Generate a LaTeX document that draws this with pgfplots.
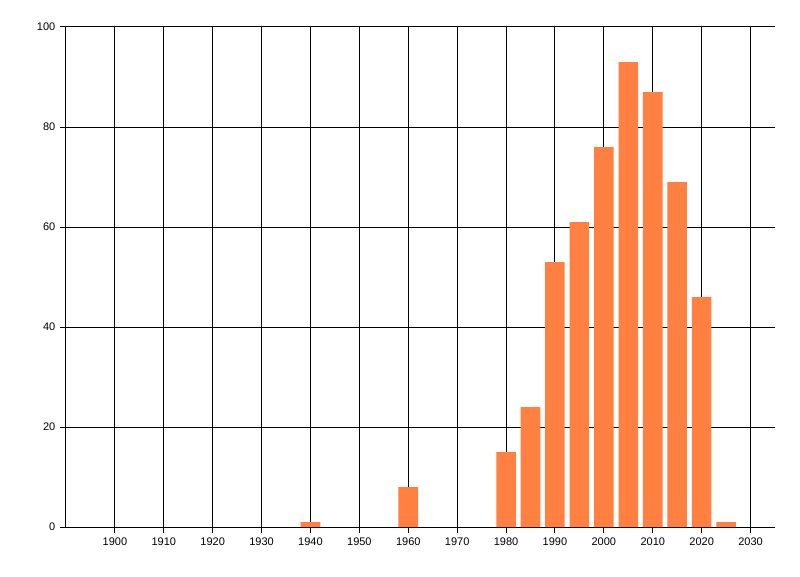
\documentclass[border=0pt]{standalone}
\usepackage{pgfplots}
\pgfplotsset{compat=1.18}
\usepackage{fontspec}
\setmainfont{Liberation Sans}
\definecolor{barc}{RGB}{255,128,64}
\begin{document}
\begin{tikzpicture}
\useasboundingbox (-49.5pt,-36.75pt) rectangle (550.5pt,395.25pt);
\begin{axis}[
  at={(0,0)}, anchor=south west,
  scale only axis, width=531.75pt, height=375pt,
  xmin=1890, xmax=2035, ymin=0, ymax=100,
  xtick={1900,1910,...,2030}, ytick={0,20,...,100},
  xmajorgrids, ymajorgrids,
  grid style={black, line width=0.75pt},
  axis x line*=bottom, axis y line*=left,
  axis line style={black, line width=0.75pt, -},
  tick style={black, line width=0.75pt},
  tick align=outside, major tick length=4.5pt,
  /pgf/number format/1000 sep={},
  /pgf/number format/assume math mode=true,
  ticklabel style={font=\fontsize{8.25}{10}\selectfont, text=black},
  ybar, bar width=4,
]
\addplot[fill=barc, draw=none] coordinates {
(1940,1) (1960,8) (1980,15) (1985,24) (1990,53) (1995,61) (2000,76)
(2005,93) (2010,87) (2015,69) (2020,46) (2025,1)
};
\end{axis}
\end{tikzpicture}
\end{document}
